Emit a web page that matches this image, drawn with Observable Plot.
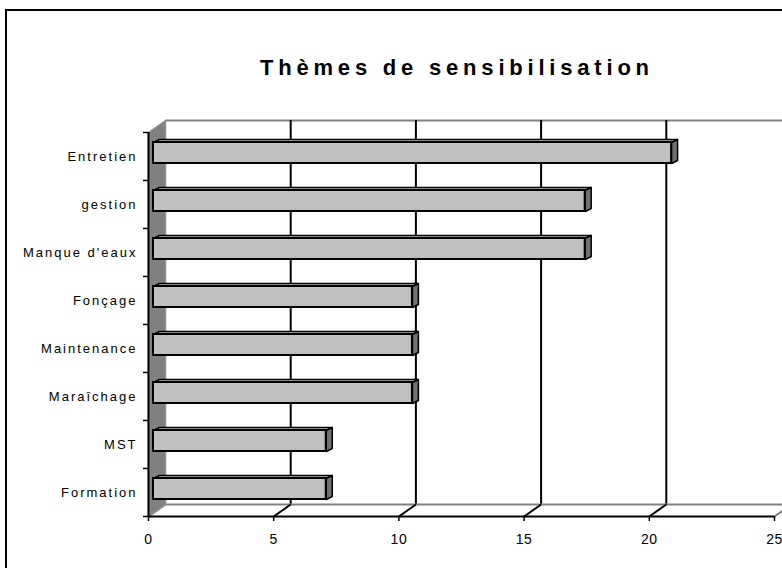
<!DOCTYPE html>
<html>
<head>
<meta charset="utf-8">
<script src="https://cdn.jsdelivr.net/npm/d3@7"></script>
<script src="https://cdn.jsdelivr.net/npm/@observablehq/plot@0.6"></script>
<style>
  html, body { margin: 0; padding: 0; background: #fff; }
  #wrap { position: relative; width: 782px; height: 568px; overflow: hidden; font-family: "Liberation Sans", Arial, sans-serif; }
  #border { position: absolute; left: 5px; top: 9px; width: 800px; height: 600px; border-left: 2px solid #000; border-top: 2px solid #000; }
  #chart { position: absolute; left: 0; top: 0; }
  #title { position: absolute; left: 260px; top: 57px; font-size: 22px; line-height: 22px; font-weight: bold; letter-spacing: 4.8px; white-space: nowrap; color: #000; }
  svg [aria-label="y-axis tick label"] text { letter-spacing: 2px; font-size: 13px; }
  svg [aria-label="x-axis tick label"] text { letter-spacing: 0.5px; font-size: 14px; }
</style>
</head>
<body>
<div id="wrap">
  <div id="border"></div>
  <div id="chart"></div>
  <div id="title">Thèmes de sensibilisation</div>
</div>
<script>
const categories = ["Entretien", "gestion", "Manque d'eaux", "Fonçage", "Maintenance", "Maraîchage", "MST", "Formation"];
const values = [20.69, 17.24, 17.24, 10.34, 10.34, 10.34, 6.90, 6.90];
const xTicks = [0, 5, 10, 15, 20, 25];

// pseudo-3D geometry (pixel offsets converted into data units)
const KX = 626 / 25, KY = 48;
const wallDx = 17 / KX, wallDy = 12 / KY;
const barOx = 5 / KX, barTop = 10 / KY, barBot = 31 / KY, barDx = 6 / KX, barDy = 3 / KY;
const N = categories.length;

const bars = categories.map((c, i) => ({c, i, v: values[i]}));

const topFaces = [], sideFaces = [];
bars.forEach(d => {
  const x1 = barOx, x2 = d.v + barOx, y1 = d.i + barTop, y2 = d.i + barBot;
  [[x1, y1], [x1 + barDx, y1 - barDy], [x2 + barDx, y1 - barDy], [x2, y1], [x1, y1]]
    .forEach(([x, y]) => topFaces.push({x, y, id: d.i}));
  [[x2, y1], [x2 + barDx, y1 - barDy], [x2 + barDx, y2 - barDy], [x2, y2], [x2, y1]]
    .forEach(([x, y]) => sideFaces.push({x, y, id: d.i}));
});
const sideWall = [[0, 0], [wallDx, -wallDy], [wallDx, N - wallDy], [0, N], [0, 0]].map(([x, y]) => ({x, y}));
const xmax = xTicks[xTicks.length - 1];

const plot = Plot.plot({
  width: 782,
  height: 568,
  marginLeft: 148,
  marginRight: 8,
  marginTop: 132,
  marginBottom: 52,
  style: {background: "transparent", fontFamily: "'Liberation Sans', Arial, sans-serif", fontSize: "13px", color: "#000"},
  x: {domain: [0, xmax], label: null},
  y: {domain: [0, N], reverse: true, label: null},
  marks: [
    // back wall top edge
    Plot.ruleY([-wallDy], {x1: () => wallDx, x2: () => xmax + wallDx, stroke: "#808080", strokeWidth: 2}),
    // back gridlines
    Plot.ruleX(xTicks.filter(t => t > 0), {x: d => d + wallDx, y1: () => -wallDy, y2: () => N - wallDy, stroke: "#000", strokeWidth: 2}),
    // floor back edge
    Plot.ruleY([N - wallDy], {x1: () => wallDx, x2: () => xmax + wallDx, stroke: "#808080", strokeWidth: 2}),
    // floor diagonals
    Plot.link(xTicks.filter(t => t > 0 && t < xmax), {x1: d => d, y1: () => N, x2: d => d + wallDx, y2: () => N - wallDy, stroke: "#000", strokeWidth: 2}),
    Plot.link(xTicks.filter(t => t === 0 || t === xmax), {x1: d => d, y1: () => N, x2: d => d + wallDx, y2: () => N - wallDy, stroke: "#808080", strokeWidth: 2}),
    // side wall
    Plot.line(sideWall, {x: "x", y: "y", fill: "#808080", stroke: "#909090", strokeWidth: 1.5}),
    // floor front edge and left front edge
    Plot.ruleY([N], {x1: () => 0, x2: () => xmax, stroke: "#000", strokeWidth: 2}),
    Plot.ruleX([0], {y1: () => 0, y2: () => N, stroke: "#000", strokeWidth: 2}),
    // bars
    Plot.line(topFaces, {x: "x", y: "y", z: "id", fill: "#c0c0c0", stroke: "#000", strokeWidth: 1.5}),
    Plot.line(sideFaces, {x: "x", y: "y", z: "id", fill: "#707070", stroke: "#000", strokeWidth: 1.5}),
    Plot.rect(bars, {x1: () => barOx, x2: d => d.v + barOx, y1: d => d.i + barTop, y2: d => d.i + barBot, fill: "#c0c0c0", stroke: "#000", strokeWidth: 2}),
    // axes
    Plot.axisX({ticks: xTicks, tickSize: 5, tickPadding: 13, tickFormat: d => String(d), label: null, stroke: "#000", strokeWidth: 1.5}),
    Plot.axisY({ticks: d3.range(N + 1), tickSize: 5, tickFormat: () => "", label: null, stroke: "#000", strokeWidth: 1.5}),
    Plot.axisY({ticks: d3.range(N).map(i => i + 0.5), tickSize: 0, tickPadding: 11, label: null, tickFormat: d => categories[Math.floor(d)]})
  ]
});
document.getElementById("chart").appendChild(plot);
</script>
</body>
</html>
